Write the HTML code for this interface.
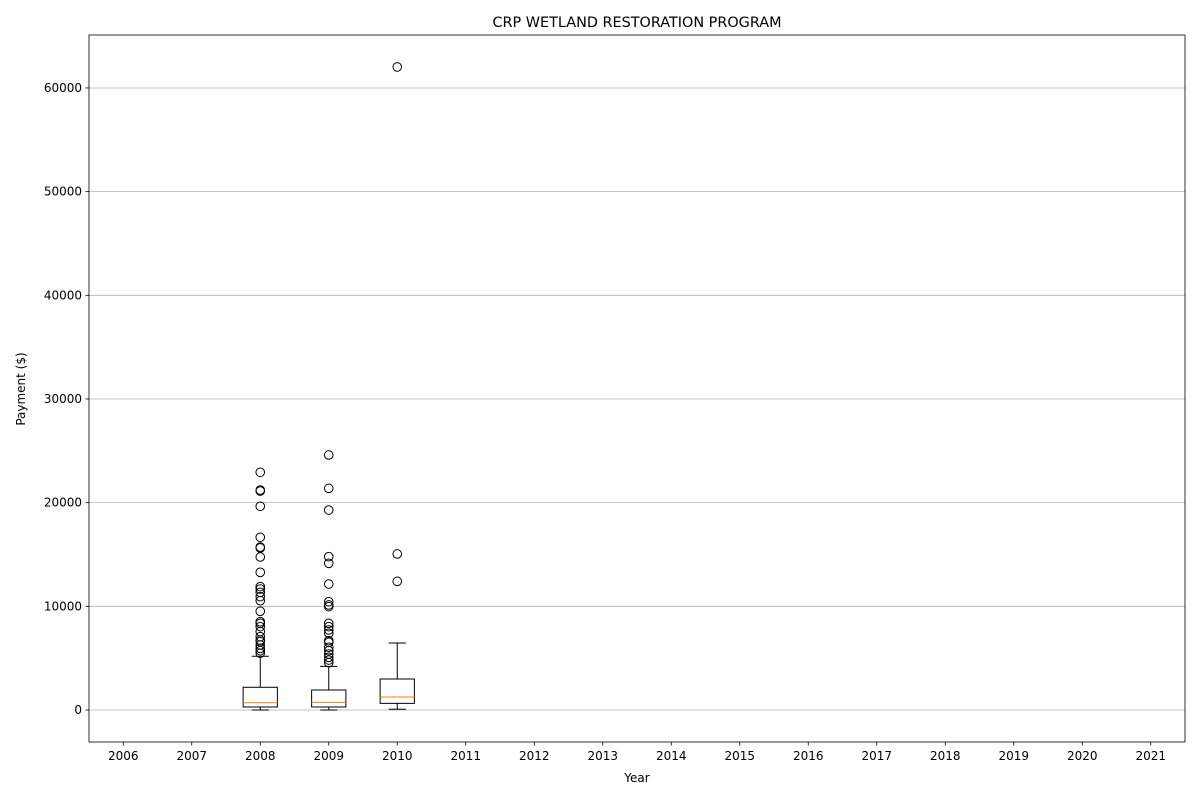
<!DOCTYPE html>
<html><head><meta charset="utf-8"><style>
body{margin:0;background:#fff;font-family:"Liberation Sans","DejaVu Sans",sans-serif}
svg text{font-family:"DejaVu Sans","Liberation Sans",sans-serif;font-size:12px}
</style></head><body>
<svg id="c" width="1200" height="800" xmlns="http://www.w3.org/2000/svg">
<rect width="1200" height="800" fill="#fff"/>
<text x="637" y="27" text-anchor="middle" style="font-size:14.4px">CRP WETLAND RESTORATION PROGRAM</text>
<text x="637" y="782" text-anchor="middle">Year</text>
<text x="25" y="389" text-anchor="middle" transform="rotate(-90 25 389)">Payment ($)</text>
<g id="grid"></g><g id="marks"></g><g id="axes"></g>
</svg>
<script>
const categories=["2006","2007","2008","2009","2010","2011","2012","2013","2014","2015","2016","2017","2018","2019","2020","2021"];
const yTicks=[0,10000,20000,30000,40000,50000,60000];
const boxYears=["2008","2009","2010"];
const whiskerLow=[0,0,70];
const q1=[290,290,640];
const median=[700,740,1250];
const q3=[2190,1930,2990];
const whiskerHigh=[5180,4210,6460];
const outliers2008=[22930,21220,21120,19650,16660,15720,15630,14760,13280,11900,11670,11350,10930,10540,9520,8520,8360,8040,7560,7070,6750,6590,6270,5950,5720,5470];
const outliers2009=[24600,21380,19290,14790,14150,12150,10450,10130,9970,8360,8040,7720,7400,6690,6530,6050,5720,5400,5080,4820,4560];
const outliers2010=[62030,15050,12410];
const outliers=[outliers2008,outliers2009,outliers2010];
const L=89,R=1185,T=35,B=742,yMin=-3087,yMax=65110;
const ns="http://www.w3.org/2000/svg";
function x(c){const i=categories.indexOf(c);return L+(i+0.5)*(R-L)/categories.length;}
function y(v){return B-(v-yMin)/(yMax-yMin)*(B-T);}
function mk(tag,at,parent){const e=document.createElementNS(ns,tag);for(const k in at)e.setAttribute(k,at[k]);document.getElementById(parent).appendChild(e);return e;}
yTicks.forEach(v=>{
 const g=mk('line',{x1:L,x2:R,y1:y(v),y2:y(v),stroke:'#b0b0b0','stroke-width':0.8},'grid');
 
 
 const t=mk('line',{x1:L-3.5,x2:L,y1:y(v),y2:y(v),stroke:'#000','stroke-width':0.8},'axes');
 
 
 const l=mk('text',{x:L-7,y:y(v)+4,'text-anchor':'end'},'axes');l.textContent=v;
 
 
});
categories.forEach(c=>{
 const t=mk('line',{x1:x(c),x2:x(c),y1:B,y2:B+3.5,stroke:'#000','stroke-width':0.8},'axes');
 
 
 const l=mk('text',{x:x(c),y:B+18,'text-anchor':'middle'},'axes');l.textContent=c;
 
 
});
const fr=mk('rect',{x:L,y:T,width:R-L,height:B-T,fill:'none',stroke:'#000','stroke-width':0.8},'axes');


const bw=(R-L)/categories.length*0.5;
boxYears.forEach((yr,i)=>{
 const cx=x(yr);
 const s={stroke:'#000','stroke-width':1,fill:'none'};
 const w1=mk('line',Object.assign({x1:cx,x2:cx,y1:y(q1[i]),y2:y(whiskerLow[i])},s),'marks');
 
 
 const w2=mk('line',Object.assign({x1:cx,x2:cx,y1:y(q3[i]),y2:y(whiskerHigh[i])},s),'marks');
 
 
 const c1=mk('line',Object.assign({x1:cx-bw/4,x2:cx+bw/4,y1:y(whiskerLow[i]),y2:y(whiskerLow[i])},s),'marks');
 
 
 const c2=mk('line',Object.assign({x1:cx-bw/4,x2:cx+bw/4,y1:y(whiskerHigh[i]),y2:y(whiskerHigh[i])},s),'marks');
 
 
 const b=mk('rect',Object.assign({x:cx-bw/2,y:y(q3[i]),width:bw,height:y(q1[i])-y(q3[i])},s),'marks');
 
 
 const m=mk('line',{x1:cx-bw/2,x2:cx+bw/2,y1:y(median[i]),y2:y(median[i]),stroke:'#ff7f0e','stroke-width':1},'marks');
 
 
 outliers[i].forEach(v=>{
  const o=mk('circle',{cx:cx,cy:y(v),r:4.3,fill:'none',stroke:'#000','stroke-width':1},'marks');
  
  
 });
});
</script>
</body></html>
